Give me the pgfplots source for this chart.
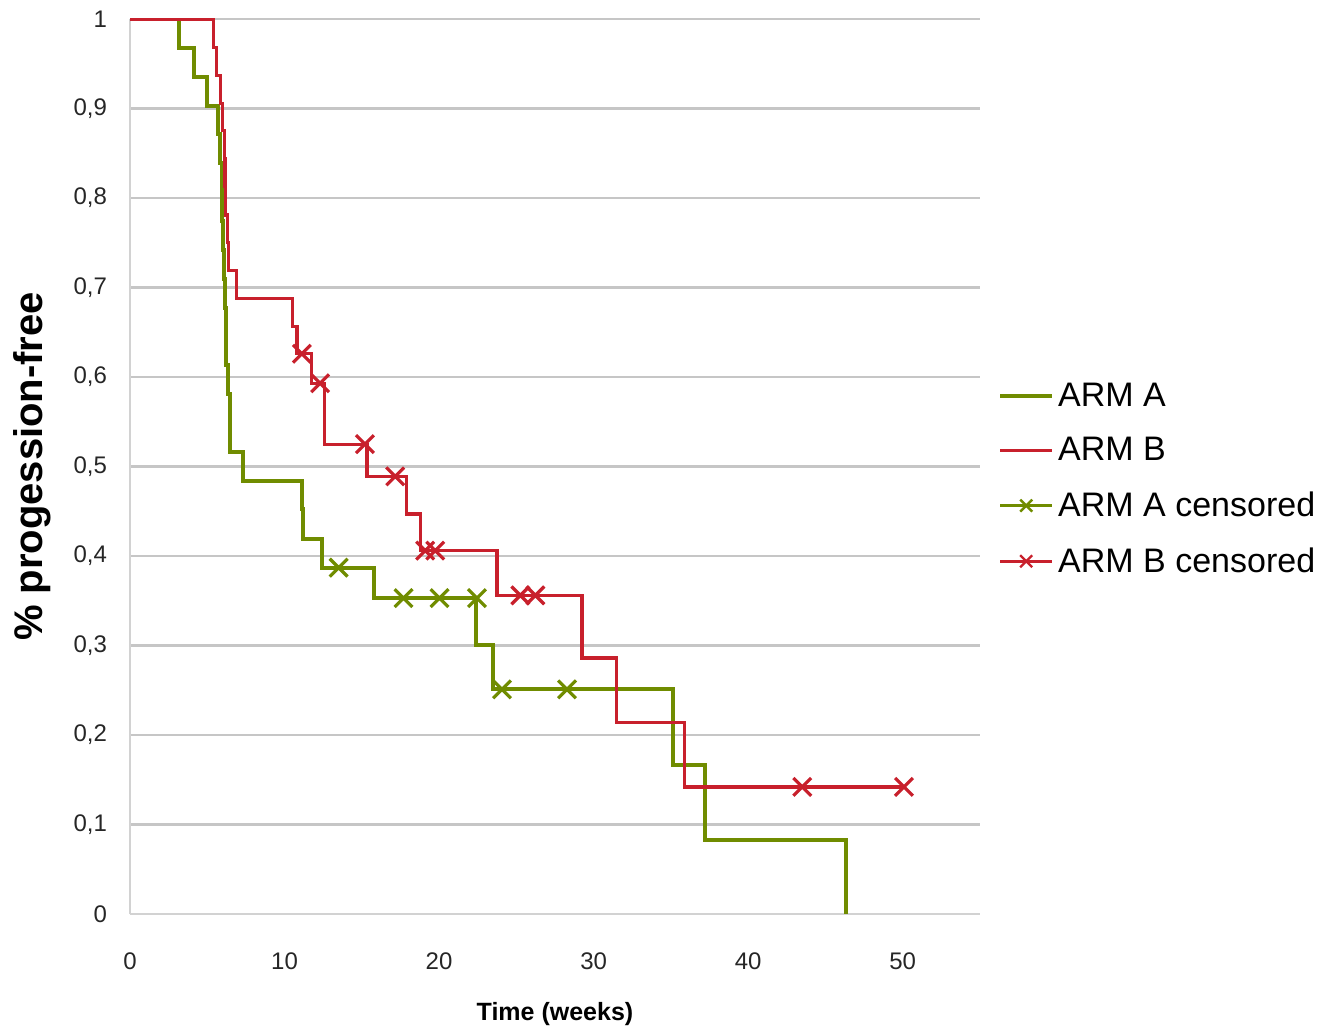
\documentclass[border=0pt]{standalone}
\usepackage{pgfplots}
\pgfplotsset{compat=1.18}
\usepackage{fontspec}
\setmainfont{Liberation Sans}
\definecolor{armA}{RGB}{112,140,0}
\definecolor{armB}{RGB}{200,32,44}
\begin{document}
\begin{tikzpicture}
\begin{axis}[
  scale only axis,
  width=425pt, height=447.5pt,
  xmin=0, xmax=55, ymin=0, ymax=1,
  xtick={0,10,20,30,40,50},
  ytick={0,0.1,0.2,0.3,0.4,0.5,0.6,0.7,0.8,0.9,1},
  ymajorgrids,
  grid style={gray!45, line width=1.1pt},
  major tick length=0pt,
  axis lines*=left,
  axis line style={gray!35, line width=1pt},
  /pgf/number format/assume math mode=true,
  /pgf/number format/use comma,
  /pgf/number format/fixed,
  /pgf/number format/precision=1,
  tick label style={font=\fontsize{12}{14}\selectfont, text=black!85},
  yticklabel style={xshift=-8pt},
  xticklabel style={yshift=-16pt},
  xlabel={\textbf{Time (weeks)}},
  ylabel={\textbf{\% progession-free}},
  xlabel style={font=\fontsize{12.5}{14}\selectfont, at={(axis description cs:0.5,-0.112)}, anchor=center},
  ylabel style={font=\fontsize{20}{22}\selectfont, at={(axis description cs:-0.115,0.5)}, anchor=center},
  legend style={draw=none, fill=none, at={(1.021,0.486)}, anchor=west,
    font=\fontsize{17}{19}\selectfont, row sep=10pt, inner sep=0pt,
    legend cell align=left},
  legend image code/.code={\draw[#1] (0pt,0pt) -- (26pt,0pt);},
]
\addplot[const plot, armA, line width=2pt] coordinates {
(0,1) (3.17,0.968) (4.15,0.935) (4.97,0.903) (5.7,0.871) (5.83,0.839)
(5.93,0.806) (5.98,0.774) (6.03,0.742) (6.08,0.710) (6.13,0.677)
(6.18,0.645) (6.23,0.613) (6.35,0.581) (6.45,0.548) (6.5,0.516)
(7.3,0.484) (11.1,0.452) (11.2,0.419) (12.4,0.387) (15.76,0.353)
(22.4,0.301) (23.5,0.251) (35.15,0.166) (37.18,0.083) (46.35,0)
};
\addlegendentry{ARM A}
\addplot[const plot, armB, line width=1.6pt] coordinates {
(0,1) (5.4,0.968) (5.6,0.937) (5.85,0.906) (6.0,0.875) (6.1,0.844)
(6.15,0.813) (6.2,0.781) (6.3,0.750) (6.35,0.719) (6.87,0.688)
(10.54,0.656) (10.8,0.626) (11.77,0.593) (12.56,0.525) (15.33,0.489)
(17.88,0.447) (18.78,0.406) (23.75,0.356) (29.25,0.286) (31.48,0.214)
(35.88,0.142) (50.1,0.142)
};
\addlegendentry{ARM B}
\addplot[only marks, mark=x, mark size=6.3pt, armA, mark options={line width=1.6pt},
  legend image code/.code={\draw[armA, line width=1.5pt] (0pt,0pt) -- (26pt,0pt);
    \draw[armA, line width=1.2pt] (10pt,-3pt) -- (16pt,3pt) (10pt,3pt) -- (16pt,-3pt);}] coordinates {
(13.5,0.387) (17.7,0.353) (20.03,0.353) (22.45,0.353) (24.07,0.251) (28.28,0.251)
};
\addlegendentry{ARM A censored}
\addplot[only marks, mark=x, mark size=6.3pt, armB, mark options={line width=1.6pt},
  legend image code/.code={\draw[armB, line width=1.5pt] (0pt,0pt) -- (26pt,0pt);
    \draw[armB, line width=1.2pt] (10pt,-3pt) -- (16pt,3pt) (10pt,3pt) -- (16pt,-3pt);}] coordinates {
(11.12,0.626) (12.3,0.593) (15.2,0.525) (17.16,0.489) (19.1,0.406) (19.75,0.406)
(25.26,0.356) (26.23,0.356) (43.5,0.142) (50.08,0.142)
};
\addlegendentry{ARM B censored}
\end{axis}
\pgfresetboundingbox
\path (-65pt,-57.5pt) rectangle (602pt,457pt);
\end{tikzpicture}
\end{document}
